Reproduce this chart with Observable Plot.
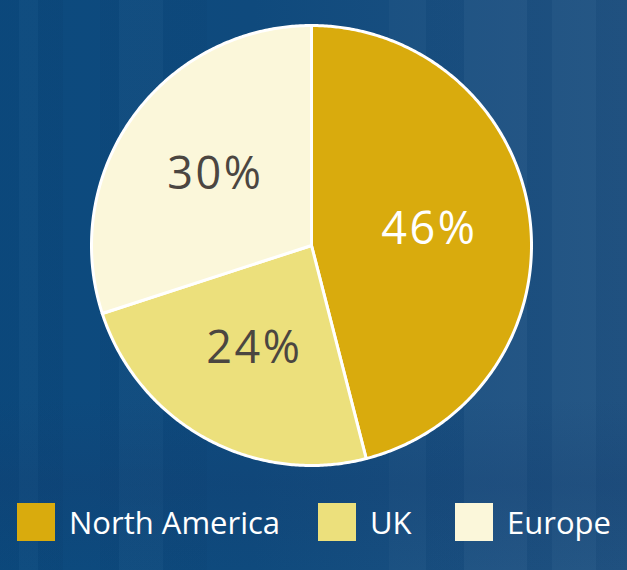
<!DOCTYPE html>
<html><head><meta charset="utf-8">
<script src="https://cdn.jsdelivr.net/npm/d3@7"></script>
<script src="https://cdn.jsdelivr.net/npm/@observablehq/plot@0.6"></script>
<style>
html,body{margin:0;padding:0;}
body{width:627px;height:570px;overflow:hidden;font-family:"Open Sans",sans-serif;
 background:
  linear-gradient(180deg, rgba(0,0,0,0) 0%, rgba(0,0,0,0) 70%, rgba(20,60,110,0.25) 85%, rgba(0,0,0,0) 100%),
  linear-gradient(90deg, rgba(0,30,70,0.05) 0 3%, rgba(255,255,255,0.015) 3% 6%, rgba(0,30,70,0.06) 6% 10%, rgba(0,0,0,0) 10% 16%, rgba(0,30,70,0.05) 16% 19%, rgba(255,255,255,0.02) 19% 26%, rgba(0,30,70,0.04) 26% 33%, rgba(0,0,0,0) 33% 62%, rgba(255,255,255,0.025) 62% 68%, rgba(0,30,70,0.03) 68% 74%, rgba(255,255,255,0.03) 74% 84%, rgba(0,30,70,0.04) 84% 88%, rgba(255,255,255,0.025) 88% 95%, rgba(0,30,70,0.04) 95% 100%),
  linear-gradient(90deg, #0c4a7e 0%, #0f4a7d 40%, #1a4f80 75%, #215382 100%);}
#chart svg{display:block;background:transparent;}
#legend{position:relative;height:80px;}
.item{position:absolute;top:13px;display:flex;align-items:center;}
.sw{width:38px;height:38px;}
.lab{color:#fff;font-size:31px;margin-left:14px;line-height:38px;}
</style></head><body><div id="chart"></div><div id="legend"></div>
<script>
const regions = ["North America", "UK", "Europe"];
const shares = [46, 24, 30];
const sliceColors = ["#d9ab0d", "#ece07c", "#fbf7da"];
const labelColors = ["#ffffff", "#4b4641", "#4b4641"];

const data = regions.map((r, i) => ({region: r, share: shares[i], color: sliceColors[i], labelColor: labelColors[i]}));
const arcs = d3.pie().sort(null).value(d => d.share)(data);

// polygon outline of each slice (center + sampled arc), in unit-circle coordinates
const outline = arcs.flatMap(a => {
  const n = Math.max(2, Math.ceil((a.endAngle - a.startAngle) / (Math.PI / 360)));
  const pts = [{region: a.data.region, color: a.data.color, x: 0, y: 0}];
  for (let k = 0; k <= n; ++k) {
    const t = a.startAngle + (a.endAngle - a.startAngle) * k / n;
    pts.push({region: a.data.region, color: a.data.color, x: Math.sin(t), y: -Math.cos(t)});
  }
  return pts;
});

const labelR = 0.54;
const chart = Plot.plot({
  width: 627, height: 490, margin: 0,
  x: {domain: [-1, 1], range: [91, 531], axis: null},
  y: {domain: [-1, 1], range: [25, 465], axis: null},
  color: {type: "identity"},
  style: {background: "transparent", fontFamily: "Open Sans, sans-serif"},
  marks: [
    Plot.line(outline, {x: "x", y: "y", z: "region", fill: "color", stroke: "#ffffff", strokeWidth: 3, strokeLinejoin: "round", curve: "linear-closed"}),
    Plot.text(arcs, {
      x: a => Math.sin((a.startAngle + a.endAngle) / 2) * labelR,
      y: a => -Math.cos((a.startAngle + a.endAngle) / 2) * labelR,
      text: a => a.data.share + "%",
      fill: a => a.data.labelColor,
      fontSize: 45, textAnchor: "middle", lineAnchor: "middle",
      dy: -1
    })
  ]
});
chart.querySelectorAll("text").forEach(t => t.style.letterSpacing = "2.5px");
document.getElementById("chart").append(chart);

const lefts = [17, 318, 455];
const legend = document.getElementById("legend");
data.forEach((d, i) => {
  const it = document.createElement("div");
  it.className = "item";
  it.style.left = lefts[i] + "px";
  it.innerHTML = `<div class="sw" style="background:${d.color}"></div><div class="lab">${d.region}</div>`;
  legend.append(it);
});
</script>
</body></html>
